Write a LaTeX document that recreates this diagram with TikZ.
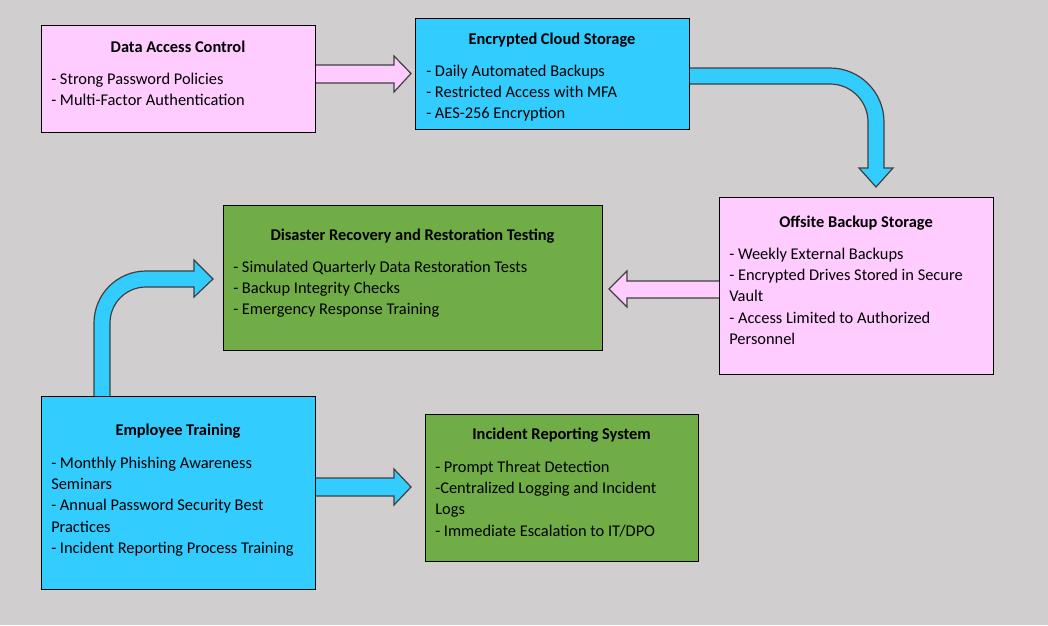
\documentclass[tikz,border=0pt]{standalone}
\usepackage{fontspec}
\setmainfont{Carlito}
\usetikzlibrary{positioning}

\definecolor{bggray}{HTML}{D0CECE}
\definecolor{pinkbox}{HTML}{FFCCFF}
\definecolor{cyanbox}{HTML}{33CCFF}
\definecolor{greenbox}{HTML}{70AD47}
\definecolor{arrowline}{HTML}{404040}

\tikzset{
  box/.style={rectangle, draw=black, line width=0.75pt, anchor=north west, inner sep=0pt},
  boxtitle/.style={font=\fontsize{12.3}{14}\selectfont\bfseries, inner sep=0pt, anchor=base},
  boxbody/.style={font=\fontsize{12.3}{16.1}\selectfont, align=left, inner sep=0pt, anchor=north west},
  blockarrow/.style={line width=0.9pt, draw=arrowline, line join=miter},
}

\begin{document}
\begin{tikzpicture}[x=0.75pt, y=-0.75pt]
    \fill[bggray] (0,0) rectangle (1048,625);

    % boxes
    \node (access) [box, fill=pinkbox, minimum width=205.5pt, minimum height=80.25pt] at (41,25) {};
    \node (cloud) [box, fill=cyanbox, minimum width=205.5pt, minimum height=83.25pt] at (415,18) {};
    \node (offsite) [box, fill=pinkbox, minimum width=205.5pt, minimum height=132.75pt] at (719,197) {};
    \node (recovery) [box, fill=greenbox, minimum width=284.25pt, minimum height=108.75pt] at (223,205) {};
    \node (training) [box, fill=cyanbox, minimum width=205.5pt, minimum height=144.75pt] at (41,396) {};
    \node (incident) [box, fill=greenbox, minimum width=204.75pt, minimum height=110.25pt] at (425,414) {};

    % titles
    \node (accesstitle) [boxtitle] at (178,52) {Data Access Control};
    \node (cloudtitle) [boxtitle] at (552,44) {Encrypted Cloud Storage};
    \node (offsitetitle) [boxtitle] at (856,227) {Offsite Backup Storage};
    \node (recoverytitle) [boxtitle] at (412.5,240) {Disaster Recovery and Restoration Testing};
    \node (trainingtitle) [boxtitle] at (178,435) {Employee Training};
    \node (incidenttitle) [boxtitle] at (561.5,439) {Incident Reporting System};

    % items
    \node (accessbody) [boxbody] at (51,72.4) {- Strong Password Policies\\- Multi-Factor Authentication};
    \node (cloudbody) [boxbody] at (426,64.4) {- Daily Automated Backups\\- Restricted Access with MFA\\- AES-256 Encryption};
    \node (offsitebody) [boxbody] at (729,247.4) {- Weekly External Backups\\- Encrypted Drives Stored in Secure\\Vault\\- Access Limited to Authorized\\Personnel};
    \node (recoverybody) [boxbody] at (233,260.4) {- Simulated Quarterly Data Restoration Tests\\- Backup Integrity Checks\\- Emergency Response Training};
    \node (trainingbody) [boxbody] at (51,456.4) {- Monthly Phishing Awareness\\Seminars\\- Annual Password Security Best\\Practices\\- Incident Reporting Process Training};
    \node (incidentbody) [boxbody] at (435,460.4) {- Prompt Threat Detection\\-Centralized Logging and Incident\\Logs\\- Immediate Escalation to IT/DPO};

    % block arrows
    \filldraw[blockarrow, fill=pinkbox] (access.east |- 0,65) -- (394,65) -- (394,56) -- (411,73.5) -- (394,92) -- (394,83) -- (access.east |- 0,83);
    \filldraw[blockarrow, fill=cyanbox] (cloud.east |- 0,68) -- (830,68) .. controls (859.8,68) and (884,92.2) .. (884,122)
        -- (884,168) -- (893,168) -- (876,187) -- (859,168) -- (868,168) -- (868,122)
        .. controls (868,101) and (851,84) .. (830,84) -- (cloud.east |- 0,84);
    \filldraw[blockarrow, fill=pinkbox] (offsite.west |- 0,281) -- (627,281) -- (627,271) -- (609,289) -- (627,307) -- (627,298) -- (offsite.west |- 0,298);
    \filldraw[blockarrow, fill=cyanbox] (training.north -| 94,0) -- (94,323) .. controls (94,294.3) and (117.3,271) .. (146,271)
        -- (194,271) -- (194,260) -- (213,279) -- (194,297) -- (194,287) -- (146,287)
        .. controls (126.1,287) and (110,303.1) .. (110,323) -- (training.north -| 110,0);
    \filldraw[blockarrow, fill=cyanbox] (training.east |- 0,478) -- (394,478) -- (394,469) -- (411,487) -- (394,505) -- (394,496) -- (training.east |- 0,496);
\end{tikzpicture}
\end{document}
